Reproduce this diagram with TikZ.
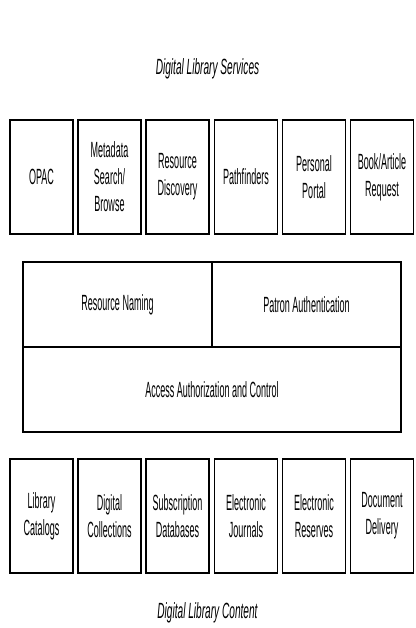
\documentclass[tikz,border=0pt]{standalone}
\usepackage{fontspec}
\newfontfamily\narrow[FakeStretch=0.41]{Liberation Sans}
\newfontfamily\narrowtitle[FakeStretch=0.46]{Liberation Sans}
\begin{document}
\begin{tikzpicture}[x=1pt,y=-1pt,
  box/.style={draw=black,line width=1.3pt,minimum width=63pt,minimum height=114pt,inner sep=0pt,
    align=center,font=\narrow\fontsize{22}{27}\selectfont},
  lbl/.style={inner sep=0pt,align=center,font=\narrow\fontsize{22}{27}\selectfont},
  title/.style={inner sep=0pt,anchor=base,font=\narrowtitle\itshape\fontsize{22}{26}\selectfont}]
\useasboundingbox[fill=white] (0,0) rectangle (415,628);
% titles
\node[title] (tserv) at (207.5,75) {Digital Library Services};
\node[title] (tcont) at (207.5,618) {Digital Library Content};
% services row
\node[box] (s1) at (41.5,177) {OPAC};
\node[box] (s2) at (109.5,177) {Metadata\\Search/\\Browse};
\node[box] (s3) at (177.5,177) {Resource\\Discovery};
\node[box] (s4) at (246,177) {Pathfinders};
\node[box] (s5) at (314,177) {Personal\\Portal};
\node[box] (s6) at (382,177) {Book/Article\\Request};
% middle block
\node[draw=black,line width=1.3pt,minimum width=378pt,minimum height=170pt,inner sep=0pt] (mid) at (212,347) {};
\draw[line width=1.3pt] (mid.west) -- (mid.east);
\draw[line width=1.3pt] (mid.north) -- (mid.center);
\node[lbl] (naming) at (117.5,304.5) {Resource Naming};
\node[lbl] (auth) at (306.5,304.5) {Patron Authentication};
\node[lbl] (access) at (212,389.5) {Access Authorization and Control};
% content row
\node[box] (c1) at (41.5,516) {Library\\Catalogs};
\node[box] (c2) at (109.5,516) {Digital\\Collections};
\node[box] (c3) at (177.5,516) {Subscription\\Databases};
\node[box] (c4) at (246,516) {Electronic\\Journals};
\node[box] (c5) at (314,516) {Electronic\\Reserves};
\node[box] (c6) at (382,516) {Document\\Delivery};
\end{tikzpicture}
\end{document}
